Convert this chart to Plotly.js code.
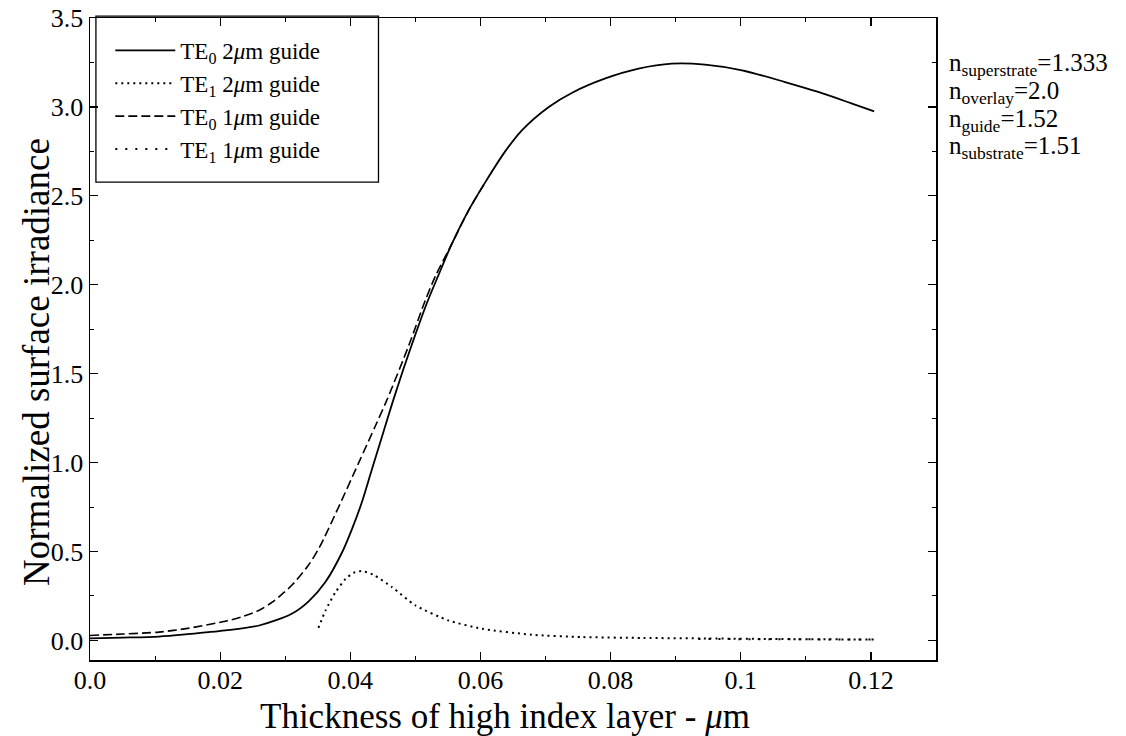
<!DOCTYPE html>
<html>
<head>
<meta charset="utf-8">
<script src="https://cdn.plot.ly/plotly-3.0.1.min.js"></script>
<style>html,body{margin:0;padding:0;background:#fff;}#chart{width:1126px;height:736px;}</style>
</head>
<body>
<div id="chart"></div>
<script>
// TE0 2um guide (solid)
const te0_2_x = [0, 0.005, 0.0106, 0.015, 0.0208, 0.026, 0.031, 0.0336, 0.0362, 0.0388, 0.0403, 0.0418, 0.0433, 0.0449, 0.0465, 0.0482, 0.050, 0.0518, 0.0535, 0.0556, 0.0582, 0.0608, 0.0638, 0.0664, 0.0705, 0.0741, 0.0792, 0.0843, 0.0894, 0.0945, 0.1002, 0.1068, 0.1119, 0.117, 0.1205];
const te0_2_y = [0.012, 0.016, 0.022, 0.035, 0.056, 0.084, 0.15, 0.22, 0.33, 0.50, 0.63, 0.78, 0.96, 1.15, 1.34, 1.53, 1.72, 1.90, 2.05, 2.23, 2.42, 2.58, 2.75, 2.87, 3.0, 3.08, 3.16, 3.215, 3.243, 3.238, 3.206, 3.14, 3.084, 3.02, 2.975];
// TE1 2um guide (dotted)
const te1_2_x = [0.0351, 0.0362, 0.0377, 0.0393, 0.0405, 0.0418, 0.0435, 0.0464, 0.050, 0.0551, 0.0602, 0.0679, 0.0756, 0.085, 0.095, 0.105, 0.1205];
const te1_2_y = [0.071, 0.169, 0.27, 0.347, 0.38, 0.39, 0.37, 0.30, 0.197, 0.112, 0.066, 0.032, 0.019, 0.014, 0.011, 0.008, 0.005];
// TE0 1um guide (dashed)
const te0_1_x = [0, 0.005, 0.0106, 0.015, 0.0208, 0.0235, 0.026, 0.028, 0.0295, 0.031, 0.0335, 0.0352, 0.0382, 0.0413, 0.0439, 0.0456, 0.049, 0.0515, 0.0531, 0.0556, 0.0582, 0.0608];
const te0_1_y = [0.028, 0.036, 0.047, 0.068, 0.108, 0.135, 0.17, 0.215, 0.26, 0.31, 0.42, 0.52, 0.75, 1.0, 1.21, 1.35, 1.66, 1.91, 2.05, 2.23, 2.42, 2.58];
// TE1 1um guide (sparse dots)
const te1_1_x = [0.0935, 0.1, 0.11, 0.1205];
const te1_1_y = [0.008, 0.007, 0.006, 0.005];

const xTickVals = [0, 0.02, 0.04, 0.06, 0.08, 0.1, 0.12];
const xTickText = ["0.0", "0.02", "0.04", "0.06", "0.08", "0.1", "0.12"];
const yTickVals = [0, 0.5, 1.0, 1.5, 2.0, 2.5, 3.0, 3.5];

const seriesNames = ["TE<sub>0</sub> 2<i>\u03bc</i>m guide", "TE<sub>1</sub> 2<i>\u03bc</i>m guide", "TE<sub>0</sub> 1<i>\u03bc</i>m guide", "TE<sub>1</sub> 1<i>\u03bc</i>m guide"];
const paramText = ["n<sub>superstrate</sub>=1.333", "n<sub>overlay</sub>=2.0", "n<sub>guide</sub>=1.52", "n<sub>substrate</sub>=1.51"];
const xTitle = "Thickness of high index layer - <i>\u03bc</i>m";
const yTitle = "Normalized surface irradiance";

const FONT = "Liberation Serif, Times New Roman, serif";

const traces = [
  {x: te0_2_x, y: te0_2_y, name: seriesNames[0], mode: "lines", line: {color: "#000", width: 1.8, shape: "spline", smoothing: 0.8}},
  {x: te1_2_x, y: te1_2_y, name: seriesNames[1], mode: "lines", line: {color: "#000", width: 2, dash: "2px,4px", shape: "spline", smoothing: 0.6}},
  {x: te0_1_x, y: te0_1_y, name: seriesNames[2], mode: "lines", line: {color: "#000", width: 1.6, dash: "9px,4px", shape: "spline", smoothing: 0.8}},
  {x: te1_1_x, y: te1_1_y, name: seriesNames[3], mode: "lines", line: {color: "#000", width: 2, dash: "2px,8px"}}
];

const axisCommon = {
  showline: true, linecolor: "#000", linewidth: 1.5, mirror: "allticks",
  ticks: "inside", ticklen: 8, tickwidth: 1.2, tickcolor: "#000",
  showgrid: false, zeroline: false,
  tickfont: {family: FONT, size: 26, color: "#000"}
};

const paramY = [65, 92.5, 120, 147.5].map(p => (660 - p) / 642);
const paramAnnotations = paramText.map((t, i) => ({
  xref: "paper", yref: "paper", x: 1.014, y: paramY[i], xanchor: "left", yanchor: "middle", align: "left",
  showarrow: false, borderpad: 0, text: t, font: {family: FONT, size: 25, color: "#000"}
}));

const layout = {
  width: 1126, height: 736,
  margin: {l: 90, r: 190, t: 18, b: 76},
  paper_bgcolor: "#fff", plot_bgcolor: "#fff",
  font: {family: FONT, color: "#000"},
  showlegend: true,
  legend: {
    x: 0.024, y: 0.983, xanchor: "left", yanchor: "top",
    bgcolor: "rgba(0,0,0,0)", borderwidth: 0,
    font: {family: FONT, size: 23, color: "#000"},
    itemwidth: 60, tracegroupgap: 0
  },
  xaxis: Object.assign({}, axisCommon, {
    range: [0, 0.13], tickvals: xTickVals, ticktext: xTickText, ticklabelstandoff: -4,
    minor: {dtick: 0.01, ticks: "inside", ticklen: 4, tickcolor: "#000", tickwidth: 1}
  }),
  yaxis: Object.assign({}, axisCommon, {
    range: [-0.11, 3.5], tickvals: yTickVals, tickformat: ".1f",
    minor: {dtick: 0.25, ticks: "inside", ticklen: 4, tickcolor: "#000", tickwidth: 1}
  }),
  shapes: [
    {type: "rect", xref: "paper", yref: "paper", x0: 0.007, x1: 0.341, y0: 0.7445, y1: 1.003, line: {color: "#000", width: 1.3}, fillcolor: "rgba(0,0,0,0)"}
  ],
  annotations: [
    {xref: "paper", yref: "paper", x: (505 - 90) / 846, y: (660 - 737) / 642, xanchor: "center", yanchor: "bottom", showarrow: false,
     borderpad: 0, text: xTitle, font: {family: FONT, size: 35, color: "#000"}},
    {xref: "paper", yref: "paper", x: (36 - 90) / 846, y: (660 - 362) / 642, xanchor: "center", yanchor: "middle", showarrow: false,
     textangle: -90, text: yTitle, font: {family: FONT, size: 37, color: "#000"}}
  ].concat(paramAnnotations)
};

Plotly.newPlot("chart", traces, layout, {displayModeBar: false, staticPlot: true});
</script>
</body>
</html>
